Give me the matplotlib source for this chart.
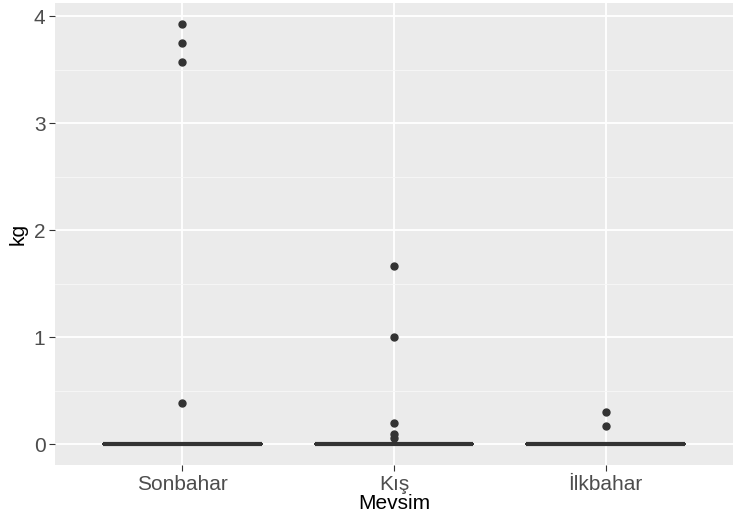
import matplotlib
matplotlib.use("Agg")
import matplotlib.pyplot as plt
from matplotlib.ticker import MultipleLocator

# seasons and the outlier values (kg)
seasons = ["Sonbahar", "Kış", "İlkbahar"]
medians = [0, 0, 0]
outliers_sonbahar = [3.93, 3.75, 3.57, 0.38]
outliers_kis = [1.66, 1.0, 0.2, 0.09, 0.06]
outliers_ilkbahar = [0.30, 0.17]
fliers = [outliers_sonbahar, outliers_kis, outliers_ilkbahar]

plt.rcParams['font.family'] = ['Liberation Sans', 'DejaVu Sans']

fig = plt.figure(figsize=(7.35, 5.22), dpi=100)
ax = fig.add_axes([0.075, 0.109, 0.922, 0.886])
ax.set_facecolor("#EBEBEB")

stats = []
for name, m, f in zip(seasons, medians, fliers):
    stats.append(dict(label=name, med=m, q1=m, q3=m, whislo=m, whishi=m, fliers=f))

pos = list(range(1, len(seasons) + 1))
ax.bxp(stats, positions=pos, widths=0.75, showcaps=False,
       boxprops=dict(color="#333333", linewidth=1.2),
       whiskerprops=dict(color="#333333", linewidth=1.2),
       medianprops=dict(color="#333333", linewidth=3),
       flierprops=dict(marker="o", markersize=5, markerfacecolor="#333333",
                       markeredgecolor="#333333"))

ax.set_xlim(0.4, 3.6)
ax.set_ylim(-0.197, 4.127)
ax.yaxis.set_major_locator(MultipleLocator(1))
ax.yaxis.set_minor_locator(MultipleLocator(0.5))
ax.set_xticks(pos)
ax.set_xticklabels(seasons)

ax.grid(which="major", color="white", linewidth=1.3)
ax.grid(which="minor", axis="y", color="#F7F7F7", linewidth=0.6)
ax.set_axisbelow(True)
for s in ax.spines.values():
    s.set_visible(False)

ax.tick_params(axis="both", which="major", length=4, color="#333333",
               labelsize=15, labelcolor="#4D4D4D", pad=3)
ax.tick_params(axis="y", which="minor", length=0)

ax.set_xlabel("Mevsim", fontsize=15, labelpad=0)
ax.set_ylabel("kg", fontsize=15, labelpad=4)

fig.savefig("out.png", dpi=100)
